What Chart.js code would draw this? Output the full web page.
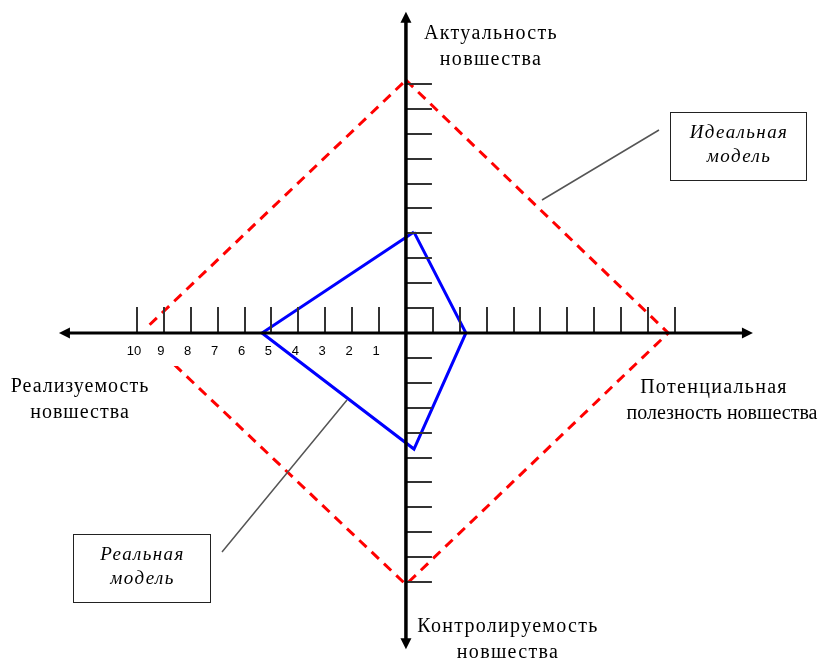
<!DOCTYPE html>
<html lang="ru">
<head>
<meta charset="utf-8">
<script src="https://cdn.jsdelivr.net/npm/chart.js@4.4.1/dist/chart.umd.min.js"></script>
<style>
    html, body { margin: 0; padding: 0; background: #fff; }
    #wrap { width: 821px; height: 658px; }
</style>
</head>
<body>
<div id="wrap"><canvas id="modelChart" width="821" height="658"></canvas></div>
<script>
// ==================== ДАННЫЕ ====================

// ИДЕАЛЬНАЯ МОДЕЛЬ (верх, право, низ, лево, замыкание)
const idealX = [0, 9.75, 0, -9.85, 0];
const idealY = [10.15, 0, -10.1, 0, 10.15];

// РЕАЛЬНАЯ МОДЕЛЬ
const realX = [0.3, 2.23, 0.3, -5.35, 0.3];
const realY = [4.05, 0, -4.66, 0, 4.05];

// ДЕЛЕНИЯ ОСЕЙ
const tickValues = [1, 2, 3, 4, 5, 6, 7, 8, 9, 10];
const tickLabels = ["1", "2", "3", "4", "5", "6", "7", "8", "9", "10"];

// ПОДПИСИ ОСЕЙ
const titleTop = ["Актуальность", "новшества"];
const titleBottom = ["Контролируемость", "новшества"];
const titleLeft = ["Реализуемость", "новшества"];
const titleRight = ["Потенциальная", "полезность новшества"];

// ВЫНОСКИ
const calloutIdeal = ["Идеальная", "модель"];
const calloutReal = ["Реальная", "модель"];

const toPoints = (xs, ys) => xs.map((x, i) => ({ x: x, y: ys[i] }));

// ==================== ПЛАГИН: ОСИ, ДЕЛЕНИЯ, ПОДПИСИ ====================
const diagramPlugin = {
    id: "diagram",

    // белый фон под подписями делений (закрывает красную линию, как в оригинале)
    afterDatasetDraw(chart, args) {
        if (args.index !== 0) return;
        const ctx = chart.ctx;
        const xs = chart.scales.x, ys = chart.scales.y;
        const y0 = ys.getPixelForValue(0);
        ctx.save();
        ctx.fillStyle = "#fff";
        ctx.fillRect(xs.getPixelForValue(-10.8), y0 - 5, xs.getPixelForValue(-0.4) - xs.getPixelForValue(-10.8), 38);
        ctx.restore();
    },

    afterDatasetsDraw(chart) {
        const ctx = chart.ctx;
        const xs = chart.scales.x, ys = chart.scales.y;
        const x0 = xs.getPixelForValue(0);
        const y0 = ys.getPixelForValue(0);
        const tickLen = 26;

        ctx.save();

        // деления
        ctx.strokeStyle = "#333";
        ctx.lineWidth = 2;
        ctx.beginPath();
        tickValues.forEach(v => {
            [v, -v].forEach(t => {
                const px = Math.round(xs.getPixelForValue(t));
                ctx.moveTo(px, y0);
                ctx.lineTo(px, y0 - tickLen);
                const py = Math.round(ys.getPixelForValue(t));
                ctx.moveTo(x0, py);
                ctx.lineTo(x0 + tickLen, py);
            });
        });
        ctx.stroke();

        // оси
        const left = xs.getPixelForValue(-12.9), right = xs.getPixelForValue(12.9);
        const top = ys.getPixelForValue(12.9), bottom = ys.getPixelForValue(-12.7);
        ctx.strokeStyle = "#000";
        ctx.lineWidth = 3;
        ctx.beginPath();
        ctx.moveTo(left + 6, y0); ctx.lineTo(right - 6, y0);
        ctx.stroke();
        ctx.lineWidth = 3.5;
        ctx.beginPath();
        ctx.moveTo(x0, top + 6); ctx.lineTo(x0, bottom - 6);
        ctx.stroke();

        // стрелки
        ctx.fillStyle = "#000";
        const arrow = (tx, ty, dx, dy) => {
            const len = 11, half = 5.5;
            const bx = tx - dx * len, by = ty - dy * len;
            ctx.beginPath();
            ctx.moveTo(tx, ty);
            ctx.lineTo(bx - dy * half, by + dx * half);
            ctx.lineTo(bx + dy * half, by - dx * half);
            ctx.closePath();
            ctx.fill();
        };
        arrow(left, y0, -1, 0);
        arrow(right, y0, 1, 0);
        arrow(x0, top, 0, -1);
        arrow(x0, bottom, 0, 1);

        // подписи делений (только слева)
        ctx.font = "13px 'Liberation Sans', Arial, sans-serif";
        ctx.textAlign = "center";
        ctx.textBaseline = "alphabetic";
        ctx.fillStyle = "#000";
        tickValues.forEach((v, i) => {
            ctx.fillText(tickLabels[i], xs.getPixelForValue(-v) - 3, y0 + 22);
        });

        // названия осей
        ctx.font = "20px 'Liberation Serif', 'Times New Roman', serif";
        ctx.letterSpacing = "1.3px";
        const lines = (arr, cx, by) => arr.forEach((t, i) => ctx.fillText(t, cx, by + i * 26));
        lines(titleTop, 491, 39);
        lines(titleBottom, 508, 632);
        ctx.letterSpacing = "1px";
        lines(titleLeft, 80, 392);
        ctx.letterSpacing = "1.3px";
        ctx.fillText(titleRight[0], 714, 393);
        ctx.letterSpacing = "0px";
        ctx.fillText(titleRight[1], 722, 419);

        // выноски
        ctx.strokeStyle = "#555";
        ctx.lineWidth = 1.5;
        ctx.beginPath();
        ctx.moveTo(542, 200); ctx.lineTo(659, 130);
        ctx.moveTo(222, 552); ctx.lineTo(347, 400);
        ctx.stroke();

        const box = (x, y, w, h, text) => {
            ctx.fillStyle = "#fff";
            ctx.fillRect(x, y, w, h);
            ctx.strokeStyle = "#222";
            ctx.lineWidth = 1;
            ctx.strokeRect(x + 0.5, y + 0.5, w, h);
            ctx.fillStyle = "#000";
            ctx.font = "italic 19px 'Liberation Serif', 'Times New Roman', serif";
            ctx.letterSpacing = "1.4px";
            ctx.fillText(text[0], x + w / 2 + 1, y + 26);
            ctx.fillText(text[1], x + w / 2 + 1, y + 50);
            ctx.letterSpacing = "0px";
        };
        box(670, 112, 136, 68, calloutIdeal);
        box(73, 534, 137, 68, calloutReal);

        ctx.restore();
    }
};

// ==================== ГРАФИК ====================
const canvas = document.getElementById("modelChart");

new Chart(canvas, {
    type: "scatter",
    data: {
        datasets: [
            {
                label: "Идеальная модель",
                data: toPoints(idealX, idealY),
                showLine: true,
                borderColor: "#ff0000",
                borderWidth: 3,
                borderDash: [10, 7],
                pointRadius: 0,
                tension: 0,
                order: 2
            },
            {
                label: "Реальная модель",
                data: toPoints(realX, realY),
                showLine: true,
                borderColor: "#0000ff",
                borderWidth: 3,
                borderJoinStyle: "miter",
                pointRadius: 0,
                tension: 0,
                order: 1
            }
        ]
    },
    options: {
        responsive: false,
        animation: false,
        layout: { padding: 0 },
        plugins: {
            legend: { display: false },
            tooltip: { enabled: false }
        },
        scales: {
            x: { type: "linear", min: -15.09, max: 15.43, display: false },
            y: { type: "linear", min: -13.05, max: 13.37, display: false }
        }
    },
    plugins: [diagramPlugin]
});
</script>
</body>
</html>
